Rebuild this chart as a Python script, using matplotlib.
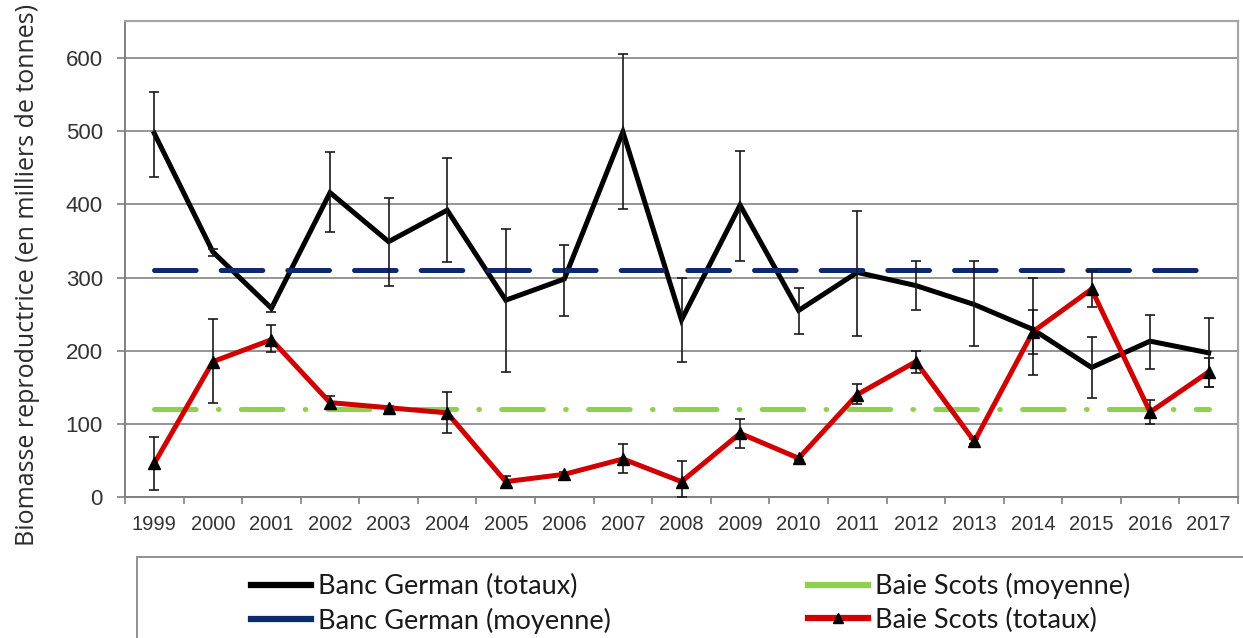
import numpy as np
import matplotlib
matplotlib.use("Agg")
import matplotlib.pyplot as plt
from matplotlib.lines import Line2D
from matplotlib.patches import Rectangle

# donnees (milliers de tonnes)
years = [str(y) for y in range(1999, 2018)]
german_tot = [497, 335, 258, 416, 349, 392, 269, 298, 499, 242, 399, 255, 307, 289, 263, 229, 177, 213, 197]
german_hi = [554, 339, 262, 472, 408, 464, 366, 344, 605, 299, 473, 286, 391, 322, 322, 299, 219, 249, 245]
german_lo = [438, 330, 253, 362, 289, 321, 171, 248, 394, 184, 322, 223, 220, 255, 207, 167, 135, 175, 150]
scots_tot = [46, 185, 215, 129, 122, 115, 21, 31, 52, 21, 87, 53, 140, 185, 76, 226, 284, 116, 171]
scots_hi = [82, 243, 235, 138, 125, 144, 29, 34, 72, 49, 107, 56, 155, 200, 79, 256, 309, 132, 190]
scots_lo = [9, 129, 198, 120, 119, 87, 14, 28, 33, 0, 67, 50, 127, 170, 73, 196, 260, 100, 150]
german_mean = 310
scots_mean = 120

plt.rcParams['lines.scale_dashes'] = False
plt.rcParams['font.family'] = ['Liberation Sans', 'DejaVu Sans']
fig = plt.figure(figsize=(12.43, 6.38), dpi=100)
ax = fig.add_axes([125/1243, 1-497/638, (1238-125)/1243, (497-20.7)/638])

x = np.arange(len(years))
gt = np.array(german_tot)
st = np.array(scots_tot)
gerr = [gt - np.array(german_lo), np.array(german_hi) - gt]
serr = [st - np.array(scots_lo), np.array(scots_hi) - st]

ax.errorbar(x, gt, yerr=gerr, fmt='none', ecolor='#1a1a1a', elinewidth=1.2, capsize=3.8, capthick=1.2, zorder=5)
ax.plot(x, gt, color='black', lw=3.6, zorder=3, solid_joinstyle='miter')
ax.plot(x, [german_mean]*len(x), color='#0d2a6e', lw=3.6, dashes=(30, 18), dash_capstyle='round', zorder=4)
ax.plot(x, [scots_mean]*len(x), color='#8fd14f', lw=3.6, dashes=(30, 16, 0.5, 16), dash_capstyle='round', zorder=4)
ax.errorbar(x, st, yerr=serr, fmt='none', ecolor='#1a1a1a', elinewidth=1.2, capsize=3.8, capthick=1.2, zorder=5)
ax.plot(x, st, color='#d00000', lw=3.6, marker='^', ms=8, mfc='black', mec='black', zorder=6)

ax.set_xlim(-0.5, len(x)-0.5)
ax.set_ylim(0, 651)
ax.set_yticks(range(0, 700, 100))
ax.yaxis.grid(True, color='#8c8c8c', lw=1.3)
ax.set_axisbelow(True)
ax.set_xticks(x)
ax.set_xticklabels(years, fontsize=14.5, color='#333333')
ax.set_xticks(np.arange(-0.5, len(x)), minor=True)
ax.tick_params(axis='x', which='major', length=0, pad=13)
ax.tick_params(axis='x', which='minor', length=5, width=1.2, color='#808080', direction='out')
ax.tick_params(axis='y', length=6, width=1.2, color='#808080', pad=10, labelsize=16, labelcolor='#333333')
for s in ['left', 'bottom']:
    ax.spines[s].set_color('#808080')
    ax.spines[s].set_linewidth(1.4)
for s in ['top', 'right']:
    ax.spines[s].set_color('#a6a6a6')
    ax.spines[s].set_linewidth(1.6)

fig.text(28/1243, 1-275/638, 'Biomasse reproductrice (en milliers de tonnes)', rotation=90,
         ha='center', va='center', fontsize=18, family='Open Sans', color='#2b2b2b')

# cadre de la legende (coupe en bas)
fig.patches.append(Rectangle((137/1243, -0.1), 1.2, 1-557/638+0.1, transform=fig.transFigure,
                             fill=False, edgecolor='#909090', lw=1.4))
handles = [Line2D([], [], color='black', lw=4.5),
           Line2D([], [], color='#0d2a6e', lw=4.5),
           Line2D([], [], color='#8fd14f', lw=4.5),
           Line2D([], [], color='#d00000', lw=4.5, marker='^', ms=7, mfc='black', mec='black')]
labels = ['Banc German (totaux)', 'Banc German (moyenne)', 'Baie Scots (moyenne)', 'Baie Scots (totaux)']
fig.legend(handles, labels, ncol=2, loc='upper left', bbox_to_anchor=(227/1243, 1-549/638),
           frameon=False, prop={'family': 'Lato', 'size': 19.5}, handlelength=2.2, handletextpad=0.25,
           columnspacing=7.3, labelspacing=0.3, labelcolor='#1a1a1a')

fig.savefig('out.png', dpi=100)
